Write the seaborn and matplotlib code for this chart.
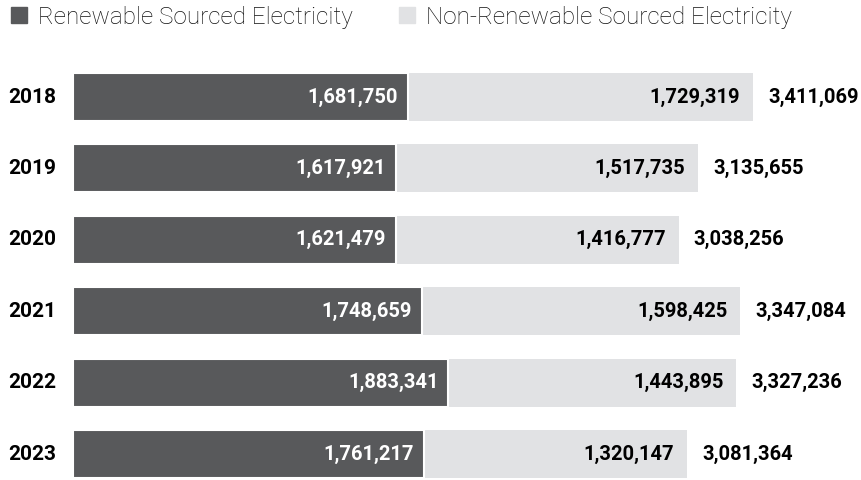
import numpy as np
import pandas as pd
import seaborn as sns
import matplotlib.pyplot as plt
from matplotlib.patches import Patch

years = ['2018', '2019', '2020', '2021', '2022', '2023']
renewable = [1681750, 1617921, 1621479, 1748659, 1883341, 1761217]
non_renewable = [1729319, 1517735, 1416777, 1598425, 1443895, 1320147]
totals = [3411069, 3135655, 3038256, 3347084, 3327236, 3081364]

df = pd.DataFrame({'Year': years, 'Renewable': renewable,
                   'NonRenewable': non_renewable, 'Total': totals})

dark = '#58595b'
light = '#e1e2e4'

sns.set_style('white')
plt.rcParams['font.family'] = ['Roboto', 'DejaVu Sans']

fig = plt.figure(figsize=(8.61, 4.8), dpi=100)
ax = fig.add_axes([73 / 861, 0, 788 / 861, (480 - 61.3) / 480])

# total first (light), renewable drawn over it (dark)
sns.barplot(data=df, x='Total', y='Year', orient='h', color=light, width=0.67,
            linewidth=0, saturation=1, ax=ax)
sns.barplot(data=df, x='Renewable', y='Year', orient='h', color=dark, width=0.67,
            edgecolor='white', linewidth=1.5, saturation=1, ax=ax)

ax.set_xlim(0, 3952800)
ax.set_ylim(5.364, -0.5)
ax.set_xticks([])
ax.set_yticks([])
ax.set_xlabel('')
ax.set_ylabel('')
sns.despine(ax=ax, left=True, bottom=True)

px = 3952800 / 788  # data units per pixel
for i, row in df.iterrows():
    ax.text(row['Renewable'] - 10 * px, i, f"{row['Renewable']:,}", ha='right', va='center',
            color='white', fontsize=14.5, fontweight='bold')
    ax.text(row['Total'] - 13 * px, i, f"{row['NonRenewable']:,}", ha='right', va='center',
            color='black', fontsize=14.5, fontweight='bold')
    ax.text(row['Total'] + 15 * px, i, f"{row['Total']:,}", ha='left', va='center',
            color='black', fontsize=14.5, fontweight='bold')
    fig.text(8 / 861, ax.transData.transform((0, i))[1] / 480, row['Year'], ha='left', va='center',
             color='black', fontsize=15, fontweight='bold')

handles = [Patch(color=dark, label='Renewable Sourced Electricity'),
           Patch(color=light, label='Non-Renewable Sourced Electricity')]
fig.legend(handles=handles, loc='upper left', bbox_to_anchor=(11 / 861, 1 - 6 / 480), ncol=2,
           frameon=False, prop={'size': 17.5, 'weight': 'light'}, labelcolor='#111111',
           handlelength=0.64, handleheight=0.64, handletextpad=0.47, columnspacing=1.9,
           borderaxespad=0, borderpad=0)

fig.savefig('out.png', dpi=100)
